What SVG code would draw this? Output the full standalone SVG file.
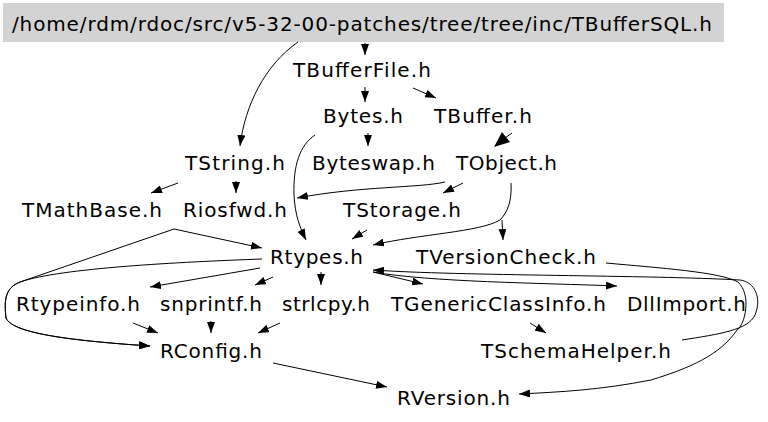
<svg xmlns="http://www.w3.org/2000/svg" width="768" height="422" viewBox="0 0 768 422">
<style>
text{font-family:"DejaVu Sans","Liberation Sans",sans-serif;font-size:20px;fill:#000;text-anchor:start}
.e path{fill:none;stroke:#000;stroke-width:1;marker-end:url(#ah)}
.e path.plain{marker-end:none}
</style>
<defs>
<marker id="ah" markerUnits="userSpaceOnUse" markerWidth="11" markerHeight="8" refX="11" refY="4" orient="auto">
<path d="M0,0 L11,4 L0,8 z" fill="#000"/>
</marker>
</defs>
<rect width="768" height="422" fill="#fff"/>
<g id="n_header">
<rect x="3" y="3" width="721" height="39" fill="#d3d3d3"/>
<text x="12" y="31" textLength="700" lengthAdjust="spacing">/home/rdm/rdoc/src/v5-32-00-patches/tree/tree/inc/TBufferSQL.h</text>
</g>
<g id="n_TBufferFile"><text x="293" y="77" textLength="138" lengthAdjust="spacing">TBufferFile.h</text></g>
<g id="n_Bytes"><text x="323" y="123" textLength="80" lengthAdjust="spacing">Bytes.h</text></g>
<g id="n_TBuffer"><text x="434" y="123" textLength="98" lengthAdjust="spacing">TBuffer.h</text></g>
<g id="n_TString"><text x="185" y="170" textLength="100" lengthAdjust="spacing">TString.h</text></g>
<g id="n_Byteswap"><text x="312" y="170" textLength="123" lengthAdjust="spacing">Byteswap.h</text></g>
<g id="n_TObject"><text x="456" y="170" textLength="101" lengthAdjust="spacing">TObject.h</text></g>
<g id="n_TMathBase"><text x="22" y="217" textLength="140" lengthAdjust="spacing">TMathBase.h</text></g>
<g id="n_Riosfwd"><text x="183" y="217" textLength="104" lengthAdjust="spacing">Riosfwd.h</text></g>
<g id="n_TStorage"><text x="343" y="217" textLength="118" lengthAdjust="spacing">TStorage.h</text></g>
<g id="n_Rtypes"><text x="270" y="264" textLength="93" lengthAdjust="spacing">Rtypes.h</text></g>
<g id="n_TVersionCheck"><text x="416" y="264" textLength="180" lengthAdjust="spacing">TVersionCheck.h</text></g>
<g id="n_Rtypeinfo"><text x="16" y="311" textLength="124" lengthAdjust="spacing">Rtypeinfo.h</text></g>
<g id="n_snprintf"><text x="160" y="311" textLength="102" lengthAdjust="spacing">snprintf.h</text></g>
<g id="n_strlcpy"><text x="282" y="311" textLength="88" lengthAdjust="spacing">strlcpy.h</text></g>
<g id="n_TGenericClassInfo"><text x="391" y="311" textLength="215" lengthAdjust="spacing">TGenericClassInfo.h</text></g>
<g id="n_DllImport"><text x="627" y="311" textLength="119" lengthAdjust="spacing">DllImport.h</text></g>
<g id="n_RConfig"><text x="160" y="358" textLength="102" lengthAdjust="spacing">RConfig.h</text></g>
<g id="n_TSchemaHelper"><text x="481" y="358" textLength="190" lengthAdjust="spacing">TSchemaHelper.h</text></g>
<g id="n_RVersion"><text x="397" y="405" textLength="113" lengthAdjust="spacing">RVersion.h</text></g>
<g id="edges" class="e">
<path d="M365,43 L365,55"/>
<path d="M298,42 C265,65 245,105 240,146"/>
<path d="M365,87 L365,102"/>
<path d="M413,88 L436,98"/>
<path d="M368,133 L368,146"/>
<path d="M315,135 C300,145 293,165 294,195 C295,215 300,228 306,240"/>
<path class="plain" d="M512,133 L505,138"/>
<polygon points="494,147 510,142 502,132" fill="#000"/>
<path d="M445,182 C420,188 360,186 297,198"/>
<path d="M463,183 L443,193"/>
<path d="M511,183 C512,200 508,212 500,220 C480,232 420,234 373,245"/>
<path d="M502,220 L503,240"/>
<path d="M178,183 L151,193"/>
<path d="M236,181 L236,193"/>
<path d="M367,230 L352,239"/>
<path d="M174,229 L262,248"/>
<path d="M174,229 L20,282 C5,288 4,300 6,318 C12,332 60,340 150,346"/>
<path d="M262,259 C180,262 60,268 20,282 C5,288 4,300 6,318 C12,332 60,340 150,346"/>
<path d="M260,268 L150,287"/>
<path d="M273,277 L255,285"/>
<path d="M321,272 L321,285"/>
<path d="M373,272 L423,284"/>
<path d="M373,272 C430,282 540,283 617,286"/>
<path d="M682,340 C720,334 748,330 755,315 C762,298 755,282 740,280 C650,275 460,276 373,270"/>
<path d="M606,263 C660,268 720,272 738,282 C752,295 745,325 737,330 C720,355 690,368 651,380 C600,390 560,392 519,394"/>
<path d="M530,323 L546,333"/>
<path d="M211,321 L211,333"/>
<path d="M133,323 L158,333"/>
<path d="M280,323 L258,333"/>
<path d="M273,363 L387,387"/>
</g>
</svg>
